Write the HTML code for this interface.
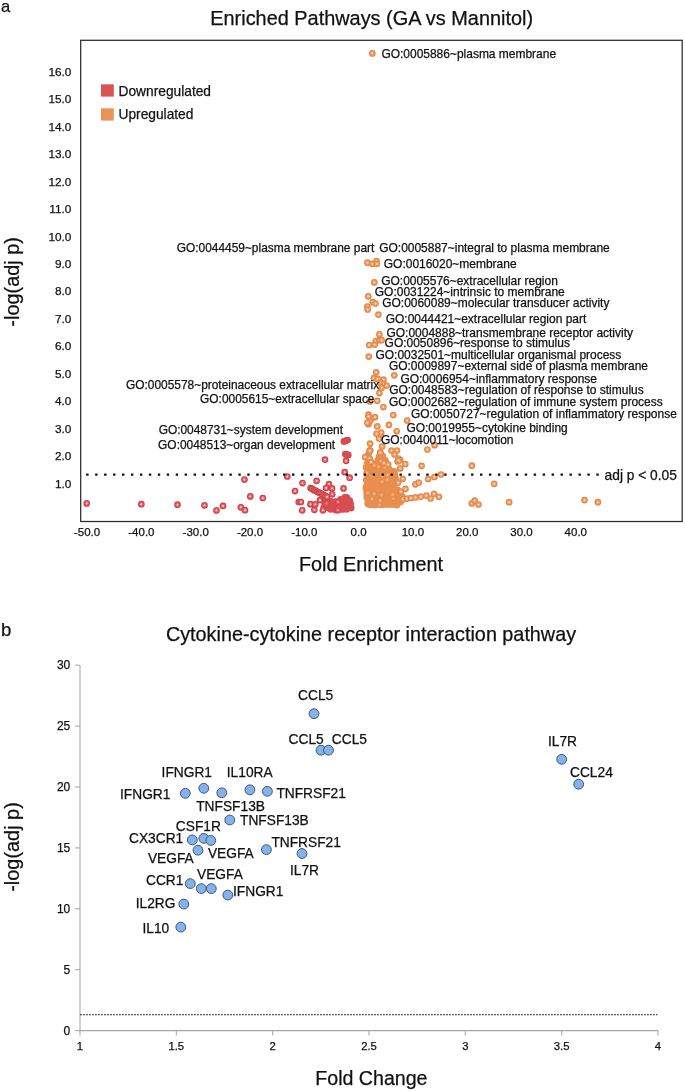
<!DOCTYPE html><html><head><meta charset="utf-8"><title>Figure</title><style>html,body{margin:0;padding:0;background:#fff}svg{display:block;will-change:transform}text{font-family:"Liberation Sans",sans-serif;fill:#111;stroke:#111;stroke-width:0.25px}</style></head><body>
<svg width="685" height="1091" viewBox="0 0 685 1091">
<rect width="685" height="1091" fill="#fff"/>
<text x="1" y="12" font-size="16.6">a</text>
<text x="371.7" y="24.7" font-size="19.9" text-anchor="middle">Enriched Pathways (GA vs Mannitol)</text>
<rect x="80.7" y="40.3" width="601.5" height="481.2" fill="none" stroke="#2b2b2b" stroke-width="1.25"/>
<g font-size="11.8" text-anchor="end">
<text x="71.4" y="487.6">1.0</text>
<text x="71.4" y="460.1">2.0</text>
<text x="71.4" y="432.6">3.0</text>
<text x="71.4" y="405.2">4.0</text>
<text x="71.4" y="377.8">5.0</text>
<text x="71.4" y="350.3">6.0</text>
<text x="71.4" y="322.8">7.0</text>
<text x="71.4" y="295.4">8.0</text>
<text x="71.4" y="267.9">9.0</text>
<text x="71.4" y="240.5">10.0</text>
<text x="71.4" y="213.1">11.0</text>
<text x="71.4" y="185.6">12.0</text>
<text x="71.4" y="158.1">13.0</text>
<text x="71.4" y="130.7">14.0</text>
<text x="71.4" y="103.2">15.0</text>
<text x="71.4" y="75.8">16.0</text>
</g>
<g font-size="11.5" text-anchor="middle">
<text x="87.1" y="535.8">-50.0</text>
<text x="141.4" y="535.8">-40.0</text>
<text x="195.7" y="535.8">-30.0</text>
<text x="250.0" y="535.8">-20.0</text>
<text x="304.3" y="535.8">-10.0</text>
<text x="358.6" y="535.8">0.0</text>
<text x="412.9" y="535.8">10.0</text>
<text x="467.2" y="535.8">20.0</text>
<text x="521.5" y="535.8">30.0</text>
<text x="575.8" y="535.8">40.0</text>
</g>
<text transform="translate(19,281.9) rotate(-90)" font-size="19.9" text-anchor="middle">-log(adj p)</text>
<text x="371" y="570.5" font-size="19.8" text-anchor="middle">Fold Enrichment</text>
<rect x="101" y="84.3" width="12.8" height="12.3" fill="#dc5356"/>
<rect x="101" y="108.3" width="12.8" height="12.3" fill="#e9935a"/>
<text x="118.5" y="95.7" font-size="13.75">Downregulated</text>
<text x="118.5" y="119.4" font-size="13.75">Upregulated</text>
<defs><radialGradient id="gr"><stop offset="0" stop-color="#f9dccf"/><stop offset="0.17" stop-color="#f9d6c8"/><stop offset="0.36" stop-color="#e9696c"/><stop offset="0.6" stop-color="#e46266"/><stop offset="0.74" stop-color="#cb444b"/><stop offset="1" stop-color="#cb444b"/></radialGradient><radialGradient id="go"><stop offset="0" stop-color="#fce6cb"/><stop offset="0.17" stop-color="#fbdcbb"/><stop offset="0.36" stop-color="#f0a670"/><stop offset="0.6" stop-color="#ec9c62"/><stop offset="0.74" stop-color="#e1884a"/><stop offset="1" stop-color="#e1884a"/></radialGradient></defs>
<g fill="#d94c50">
<circle cx="338.3" cy="508.1" r="3.3"/>
<circle cx="337.8" cy="510.2" r="3.3"/>
<circle cx="326.5" cy="503.5" r="3.3"/>
<circle cx="338.1" cy="501.8" r="3.3"/>
<circle cx="349.2" cy="504.9" r="3.3"/>
<circle cx="335.3" cy="501.6" r="3.3"/>
<circle cx="343.8" cy="498.8" r="3.3"/>
<circle cx="327.2" cy="506.1" r="3.3"/>
<circle cx="345.3" cy="507.7" r="3.3"/>
<circle cx="346.8" cy="497.3" r="3.3"/>
<circle cx="324.7" cy="502.9" r="3.3"/>
<circle cx="332.1" cy="507.6" r="3.3"/>
<circle cx="339.2" cy="505.1" r="3.3"/>
<circle cx="331.9" cy="503.2" r="3.3"/>
<circle cx="330.8" cy="501.3" r="3.3"/>
<circle cx="333.7" cy="503.3" r="3.3"/>
<circle cx="341.7" cy="505.3" r="3.3"/>
<circle cx="349.8" cy="500.9" r="3.3"/>
<circle cx="337.6" cy="504.9" r="3.3"/>
<circle cx="344.0" cy="504.9" r="3.3"/>
<circle cx="329.5" cy="503.9" r="3.3"/>
<circle cx="348.1" cy="503.3" r="3.3"/>
<circle cx="335.6" cy="507.4" r="3.3"/>
<circle cx="345.8" cy="498.6" r="3.3"/>
<circle cx="333.0" cy="505.4" r="3.3"/>
<circle cx="334.9" cy="505.0" r="3.3"/>
<circle cx="325.6" cy="505.8" r="3.3"/>
<circle cx="340.5" cy="499.2" r="3.3"/>
<circle cx="343.9" cy="509.1" r="3.3"/>
<circle cx="346.5" cy="505.0" r="3.3"/>
<circle cx="335.7" cy="510.2" r="3.3"/>
<circle cx="345.5" cy="502.8" r="3.3"/>
<circle cx="326.4" cy="507.4" r="3.3"/>
<circle cx="347.5" cy="507.7" r="3.3"/>
<circle cx="350.7" cy="504.1" r="3.3"/>
<circle cx="339.5" cy="501.2" r="3.3"/>
<circle cx="333.8" cy="507.1" r="3.3"/>
<circle cx="351.3" cy="508.1" r="3.3"/>
<circle cx="343.4" cy="503.6" r="3.3"/>
<circle cx="327.7" cy="501.9" r="3.3"/>
<circle cx="342.2" cy="509.5" r="3.3"/>
<circle cx="346.7" cy="509.4" r="3.3"/>
<circle cx="328.5" cy="508.1" r="3.3"/>
<circle cx="344.0" cy="507.7" r="3.3"/>
<circle cx="344.7" cy="497.4" r="3.3"/>
<circle cx="340.5" cy="507.0" r="3.3"/>
<circle cx="323.7" cy="507.3" r="3.3"/>
<circle cx="330.6" cy="509.5" r="3.3"/>
<circle cx="344.5" cy="500.9" r="3.3"/>
<circle cx="336.7" cy="504.1" r="3.3"/>
<circle cx="342.4" cy="500.7" r="3.3"/>
<circle cx="330.6" cy="506.1" r="3.3"/>
<circle cx="340.1" cy="509.3" r="3.3"/>
<circle cx="325.5" cy="501.5" r="3.3"/>
<circle cx="346.5" cy="500.8" r="3.3"/>
<circle cx="348.4" cy="499.7" r="3.3"/>
<circle cx="340.6" cy="503.1" r="3.3"/>
<circle cx="338.1" cy="503.0" r="3.3"/>
</g>
<g fill="url(#gr)" opacity="0.55">
<circle cx="338.3" cy="508.1" r="3.3"/>
<circle cx="337.8" cy="510.2" r="3.3"/>
<circle cx="326.5" cy="503.5" r="3.3"/>
<circle cx="338.1" cy="501.8" r="3.3"/>
</g>
<g fill="url(#gr)">
<circle cx="86.7" cy="503.4" r="3.35"/>
<circle cx="141.3" cy="504.2" r="3.35"/>
<circle cx="177.5" cy="504.7" r="3.35"/>
<circle cx="204.5" cy="505.3" r="3.35"/>
<circle cx="216.5" cy="510.4" r="3.35"/>
<circle cx="223.0" cy="505.9" r="3.35"/>
<circle cx="240.8" cy="507.3" r="3.35"/>
<circle cx="245.0" cy="510.2" r="3.35"/>
<circle cx="244.4" cy="479.6" r="3.35"/>
<circle cx="250.3" cy="496.4" r="3.35"/>
<circle cx="262.8" cy="498.0" r="3.35"/>
<circle cx="287.3" cy="476.5" r="3.35"/>
<circle cx="302.5" cy="483.1" r="3.35"/>
<circle cx="295.0" cy="491.1" r="3.35"/>
<circle cx="316.6" cy="480.8" r="3.35"/>
<circle cx="325.0" cy="459.6" r="3.35"/>
<circle cx="298.7" cy="502.0" r="3.35"/>
<circle cx="300.9" cy="502.0" r="3.35"/>
<circle cx="302.2" cy="510.3" r="3.35"/>
<circle cx="310.5" cy="504.2" r="3.35"/>
<circle cx="315.3" cy="504.4" r="3.35"/>
<circle cx="314.4" cy="509.8" r="3.35"/>
<circle cx="322.9" cy="510.3" r="3.35"/>
<circle cx="320.0" cy="500.2" r="3.35"/>
<circle cx="328.9" cy="484.0" r="3.35"/>
<circle cx="326.1" cy="488.0" r="3.35"/>
<circle cx="332.0" cy="488.4" r="3.35"/>
<circle cx="343.5" cy="488.4" r="3.35"/>
<circle cx="332.2" cy="494.3" r="3.35"/>
<circle cx="344.7" cy="472.2" r="3.35"/>
<circle cx="349.6" cy="477.7" r="3.35"/>
<circle cx="346.1" cy="460.8" r="3.35"/>
<circle cx="345.4" cy="454.2" r="3.35"/>
<circle cx="348.3" cy="455.0" r="3.35"/>
<circle cx="346.8" cy="454.5" r="3.35"/>
<circle cx="343.9" cy="441.4" r="3.35"/>
<circle cx="347.6" cy="440.0" r="3.35"/>
<circle cx="345.7" cy="440.8" r="3.35"/>
<circle cx="310.6" cy="488.0" r="3.35"/>
<circle cx="312.2" cy="488.8" r="3.35"/>
<circle cx="313.9" cy="490.2" r="3.35"/>
<circle cx="315.6" cy="490.5" r="3.35"/>
<circle cx="317.2" cy="491.8" r="3.35"/>
<circle cx="318.9" cy="492.6" r="3.35"/>
<circle cx="320.5" cy="493.2" r="3.35"/>
<circle cx="322.2" cy="494.5" r="3.35"/>
<circle cx="323.8" cy="494.9" r="3.35"/>
<circle cx="325.5" cy="496.2" r="3.35"/>
<circle cx="327.1" cy="496.8" r="3.35"/>
</g>
<g fill="#d94c50"><circle cx="345.7" cy="440.8" r="3.2"/><circle cx="346.8" cy="454.6" r="3.2"/><circle cx="344.5" cy="441.2" r="3.2"/><circle cx="347" cy="440.3" r="3.2"/><circle cx="345.8" cy="454.3" r="3.2"/><circle cx="347.8" cy="454.9" r="3.2"/></g>
<g fill="#e88f50"><circle cx="369.8" cy="450.8" r="3.3"/><circle cx="368.5" cy="454" r="3.3"/><circle cx="366.3" cy="457" r="3.3"/><circle cx="369.5" cy="458.5" r="3.3"/><circle cx="368.9" cy="461.5" r="3.3"/><circle cx="367" cy="463.5" r="3.3"/><circle cx="371" cy="462" r="3.3"/><circle cx="370.1" cy="450.5" r="3.3"/><circle cx="365.3" cy="457.1" r="3.3"/><circle cx="380.3" cy="452.6" r="3.3"/><circle cx="382.9" cy="456.1" r="3.3"/><circle cx="385.5" cy="460.4" r="3.3"/><circle cx="381.2" cy="461.3" r="3.3"/><circle cx="377.7" cy="460.4" r="3.3"/><circle cx="379" cy="456.5" r="3.3"/><circle cx="384" cy="463" r="3.3"/><circle cx="376.5" cy="463.5" r="3.3"/><circle cx="374" cy="465" r="3.3"/><circle cx="388" cy="464.5" r="3.3"/></g>
<g fill="#e88f50">
<circle cx="374.1" cy="493.9" r="3.3"/>
<circle cx="366.8" cy="472.8" r="3.3"/>
<circle cx="372.0" cy="499.1" r="3.3"/>
<circle cx="378.3" cy="466.7" r="3.3"/>
<circle cx="393.2" cy="498.2" r="3.3"/>
<circle cx="372.6" cy="475.6" r="3.3"/>
<circle cx="384.7" cy="467.5" r="3.3"/>
<circle cx="382.0" cy="481.8" r="3.3"/>
<circle cx="367.8" cy="492.9" r="3.3"/>
<circle cx="392.7" cy="494.6" r="3.3"/>
<circle cx="382.4" cy="476.2" r="3.3"/>
<circle cx="379.6" cy="504.6" r="3.3"/>
<circle cx="374.1" cy="465.2" r="3.3"/>
<circle cx="381.3" cy="494.9" r="3.3"/>
<circle cx="387.6" cy="474.9" r="3.3"/>
<circle cx="380.1" cy="500.8" r="3.3"/>
<circle cx="387.4" cy="479.7" r="3.3"/>
<circle cx="402.1" cy="496.2" r="3.3"/>
<circle cx="377.9" cy="504.1" r="3.3"/>
<circle cx="373.7" cy="472.9" r="3.3"/>
<circle cx="393.1" cy="477.0" r="3.3"/>
<circle cx="366.1" cy="467.4" r="3.3"/>
<circle cx="392.8" cy="504.5" r="3.3"/>
<circle cx="386.9" cy="494.9" r="3.3"/>
<circle cx="367.7" cy="502.7" r="3.3"/>
<circle cx="379.2" cy="477.8" r="3.3"/>
<circle cx="384.4" cy="486.0" r="3.3"/>
<circle cx="399.9" cy="500.7" r="3.3"/>
<circle cx="386.5" cy="477.6" r="3.3"/>
<circle cx="379.6" cy="502.0" r="3.3"/>
<circle cx="383.1" cy="478.0" r="3.3"/>
<circle cx="372.4" cy="469.7" r="3.3"/>
<circle cx="380.0" cy="497.0" r="3.3"/>
<circle cx="368.9" cy="501.1" r="3.3"/>
<circle cx="389.3" cy="480.3" r="3.3"/>
<circle cx="389.5" cy="504.5" r="3.3"/>
<circle cx="388.9" cy="498.9" r="3.3"/>
<circle cx="372.7" cy="480.0" r="3.3"/>
<circle cx="398.0" cy="493.9" r="3.3"/>
<circle cx="395.4" cy="490.3" r="3.3"/>
<circle cx="374.0" cy="477.1" r="3.3"/>
<circle cx="399.8" cy="491.9" r="3.3"/>
<circle cx="378.4" cy="493.7" r="3.3"/>
<circle cx="382.8" cy="500.9" r="3.3"/>
<circle cx="377.1" cy="477.7" r="3.3"/>
<circle cx="389.2" cy="497.0" r="3.3"/>
<circle cx="396.9" cy="505.3" r="3.3"/>
<circle cx="369.0" cy="503.1" r="3.3"/>
<circle cx="377.1" cy="479.1" r="3.3"/>
<circle cx="390.4" cy="477.9" r="3.3"/>
<circle cx="387.7" cy="504.6" r="3.3"/>
<circle cx="385.0" cy="472.0" r="3.3"/>
<circle cx="383.4" cy="503.3" r="3.3"/>
<circle cx="391.9" cy="496.8" r="3.3"/>
<circle cx="379.6" cy="498.3" r="3.3"/>
<circle cx="392.0" cy="500.9" r="3.3"/>
<circle cx="376.7" cy="489.5" r="3.3"/>
<circle cx="381.7" cy="477.6" r="3.3"/>
<circle cx="368.0" cy="487.4" r="3.3"/>
<circle cx="375.4" cy="496.2" r="3.3"/>
<circle cx="386.9" cy="501.1" r="3.3"/>
<circle cx="375.4" cy="475.9" r="3.3"/>
<circle cx="366.1" cy="480.1" r="3.3"/>
<circle cx="370.4" cy="505.0" r="3.3"/>
<circle cx="378.4" cy="483.5" r="3.3"/>
<circle cx="383.8" cy="499.1" r="3.3"/>
<circle cx="385.8" cy="498.9" r="3.3"/>
<circle cx="372.1" cy="486.6" r="3.3"/>
<circle cx="369.5" cy="481.3" r="3.3"/>
<circle cx="379.9" cy="483.9" r="3.3"/>
<circle cx="393.9" cy="487.9" r="3.3"/>
<circle cx="368.1" cy="474.9" r="3.3"/>
<circle cx="386.7" cy="487.4" r="3.3"/>
<circle cx="386.8" cy="469.5" r="3.3"/>
<circle cx="381.4" cy="465.1" r="3.3"/>
<circle cx="386.1" cy="473.1" r="3.3"/>
<circle cx="392.8" cy="485.7" r="3.3"/>
<circle cx="372.4" cy="493.8" r="3.3"/>
<circle cx="384.7" cy="479.7" r="3.3"/>
<circle cx="389.5" cy="500.7" r="3.3"/>
<circle cx="366.6" cy="493.9" r="3.3"/>
<circle cx="395.5" cy="477.9" r="3.3"/>
<circle cx="389.0" cy="468.7" r="3.3"/>
<circle cx="392.4" cy="475.9" r="3.3"/>
<circle cx="378.4" cy="496.0" r="3.3"/>
<circle cx="386.2" cy="481.7" r="3.3"/>
<circle cx="368.9" cy="469.2" r="3.3"/>
<circle cx="384.5" cy="475.8" r="3.3"/>
<circle cx="386.8" cy="471.8" r="3.3"/>
<circle cx="390.1" cy="492.2" r="3.3"/>
<circle cx="399.6" cy="496.1" r="3.3"/>
<circle cx="373.9" cy="468.8" r="3.3"/>
<circle cx="366.5" cy="490.2" r="3.3"/>
<circle cx="386.8" cy="495.8" r="3.3"/>
<circle cx="379.2" cy="473.1" r="3.3"/>
<circle cx="392.2" cy="488.2" r="3.3"/>
<circle cx="370.3" cy="471.7" r="3.3"/>
<circle cx="389.3" cy="485.9" r="3.3"/>
<circle cx="391.8" cy="480.4" r="3.3"/>
<circle cx="370.3" cy="488.7" r="3.3"/>
<circle cx="381.1" cy="502.1" r="3.3"/>
<circle cx="395.0" cy="475.0" r="3.3"/>
<circle cx="386.7" cy="467.3" r="3.3"/>
<circle cx="383.7" cy="468.7" r="3.3"/>
<circle cx="382.4" cy="466.8" r="3.3"/>
<circle cx="375.9" cy="483.6" r="3.3"/>
<circle cx="395.2" cy="479.0" r="3.3"/>
<circle cx="390.4" cy="490.2" r="3.3"/>
<circle cx="396.7" cy="497.0" r="3.3"/>
<circle cx="367.7" cy="467.7" r="3.3"/>
<circle cx="387.8" cy="484.1" r="3.3"/>
<circle cx="388.4" cy="503.2" r="3.3"/>
<circle cx="369.7" cy="490.8" r="3.3"/>
<circle cx="393.9" cy="481.1" r="3.3"/>
<circle cx="382.9" cy="479.9" r="3.3"/>
<circle cx="389.2" cy="474.1" r="3.3"/>
<circle cx="383.5" cy="489.6" r="3.3"/>
<circle cx="369.7" cy="477.2" r="3.3"/>
<circle cx="383.1" cy="481.1" r="3.3"/>
<circle cx="386.7" cy="465.7" r="3.3"/>
<circle cx="367.8" cy="496.2" r="3.3"/>
<circle cx="371.1" cy="477.1" r="3.3"/>
<circle cx="373.7" cy="482.2" r="3.3"/>
<circle cx="377.5" cy="492.5" r="3.3"/>
<circle cx="399.9" cy="494.0" r="3.3"/>
<circle cx="390.1" cy="488.6" r="3.3"/>
<circle cx="378.9" cy="485.5" r="3.3"/>
<circle cx="377.2" cy="469.4" r="3.3"/>
<circle cx="390.9" cy="502.3" r="3.3"/>
<circle cx="379.8" cy="487.9" r="3.3"/>
<circle cx="384.3" cy="494.6" r="3.3"/>
<circle cx="377.4" cy="487.7" r="3.3"/>
<circle cx="396.6" cy="500.1" r="3.3"/>
<circle cx="366.5" cy="485.9" r="3.3"/>
<circle cx="375.0" cy="505.2" r="3.3"/>
<circle cx="394.7" cy="504.6" r="3.3"/>
<circle cx="390.4" cy="484.5" r="3.3"/>
<circle cx="395.6" cy="494.1" r="3.3"/>
<circle cx="397.6" cy="498.1" r="3.3"/>
<circle cx="377.7" cy="500.2" r="3.3"/>
<circle cx="375.4" cy="500.9" r="3.3"/>
<circle cx="395.2" cy="502.8" r="3.3"/>
<circle cx="381.9" cy="496.3" r="3.3"/>
<circle cx="397.5" cy="489.9" r="3.3"/>
<circle cx="398.4" cy="502.3" r="3.3"/>
<circle cx="372.3" cy="492.2" r="3.3"/>
<circle cx="390.3" cy="476.1" r="3.3"/>
<circle cx="380.9" cy="485.6" r="3.3"/>
<circle cx="371.3" cy="500.3" r="3.3"/>
<circle cx="369.4" cy="465.2" r="3.3"/>
<circle cx="384.4" cy="465.4" r="3.3"/>
<circle cx="381.0" cy="473.2" r="3.3"/>
<circle cx="394.0" cy="484.2" r="3.3"/>
<circle cx="372.5" cy="488.1" r="3.3"/>
<circle cx="369.2" cy="485.7" r="3.3"/>
<circle cx="367.8" cy="504.1" r="3.3"/>
<circle cx="369.3" cy="494.6" r="3.3"/>
<circle cx="382.7" cy="505.0" r="3.3"/>
<circle cx="388.4" cy="493.9" r="3.3"/>
<circle cx="393.5" cy="490.0" r="3.3"/>
<circle cx="376.6" cy="499.1" r="3.3"/>
<circle cx="382.2" cy="483.7" r="3.3"/>
<circle cx="370.0" cy="479.2" r="3.3"/>
<circle cx="387.0" cy="492.6" r="3.3"/>
<circle cx="372.1" cy="490.4" r="3.3"/>
<circle cx="373.9" cy="486.2" r="3.3"/>
<circle cx="370.9" cy="492.0" r="3.3"/>
<circle cx="373.5" cy="498.1" r="3.3"/>
<circle cx="374.9" cy="471.1" r="3.3"/>
<circle cx="379.9" cy="479.9" r="3.3"/>
<circle cx="377.3" cy="493.8" r="3.3"/>
<circle cx="371.3" cy="466.8" r="3.3"/>
<circle cx="379.4" cy="489.8" r="3.3"/>
<circle cx="372.9" cy="495.8" r="3.3"/>
<circle cx="391.1" cy="473.1" r="3.3"/>
<circle cx="367.5" cy="477.9" r="3.3"/>
<circle cx="394.6" cy="471.6" r="3.3"/>
<circle cx="377.1" cy="471.0" r="3.3"/>
<circle cx="371.8" cy="482.4" r="3.3"/>
<circle cx="372.4" cy="500.0" r="3.3"/>
<circle cx="384.4" cy="504.3" r="3.3"/>
<circle cx="382.5" cy="488.7" r="3.3"/>
<circle cx="370.5" cy="483.6" r="3.3"/>
<circle cx="373.6" cy="467.0" r="3.3"/>
<circle cx="378.0" cy="475.8" r="3.3"/>
<circle cx="382.0" cy="490.3" r="3.3"/>
<circle cx="383.7" cy="473.0" r="3.3"/>
<circle cx="385.8" cy="486.5" r="3.3"/>
<circle cx="395.6" cy="498.9" r="3.3"/>
<circle cx="380.8" cy="491.8" r="3.3"/>
<circle cx="372.6" cy="504.5" r="3.3"/>
<circle cx="366.7" cy="497.8" r="3.3"/>
<circle cx="380.7" cy="475.4" r="3.3"/>
<circle cx="394.3" cy="492.7" r="3.3"/>
<circle cx="385.5" cy="500.8" r="3.3"/>
<circle cx="391.6" cy="494.7" r="3.3"/>
<circle cx="381.9" cy="492.0" r="3.3"/>
<circle cx="371.1" cy="496.9" r="3.3"/>
<circle cx="372.0" cy="503.4" r="3.3"/>
<circle cx="390.8" cy="481.5" r="3.3"/>
<circle cx="391.8" cy="492.9" r="3.3"/>
<circle cx="375.6" cy="492.1" r="3.3"/>
<circle cx="386.3" cy="503.3" r="3.3"/>
<circle cx="375.1" cy="479.8" r="3.3"/>
<circle cx="390.5" cy="485.5" r="3.3"/>
<circle cx="375.4" cy="467.9" r="3.3"/>
<circle cx="379.5" cy="471.7" r="3.3"/>
<circle cx="368.4" cy="479.9" r="3.3"/>
<circle cx="394.1" cy="473.2" r="3.3"/>
<circle cx="402.4" cy="497.8" r="3.3"/>
<circle cx="381.1" cy="498.4" r="3.3"/>
<circle cx="377.0" cy="503.1" r="3.3"/>
<circle cx="395.2" cy="496.2" r="3.3"/>
<circle cx="365.8" cy="487.9" r="3.3"/>
<circle cx="388.3" cy="481.3" r="3.3"/>
<circle cx="367.8" cy="471.1" r="3.3"/>
<circle cx="367.4" cy="468.9" r="3.3"/>
<circle cx="394.2" cy="500.2" r="3.3"/>
<circle cx="385.5" cy="488.6" r="3.3"/>
<circle cx="393.8" cy="503.3" r="3.3"/>
<circle cx="388.6" cy="477.8" r="3.3"/>
<circle cx="367.6" cy="481.4" r="3.3"/>
<circle cx="392.7" cy="471.2" r="3.3"/>
<circle cx="377.1" cy="474.0" r="3.3"/>
<circle cx="375.6" cy="488.6" r="3.3"/>
<circle cx="385.4" cy="496.8" r="3.3"/>
<circle cx="379.3" cy="481.4" r="3.3"/>
<circle cx="384.9" cy="492.5" r="3.3"/>
<circle cx="385.9" cy="490.3" r="3.3"/>
<circle cx="379.3" cy="468.7" r="3.3"/>
<circle cx="368.3" cy="483.7" r="3.3"/>
<circle cx="391.4" cy="498.6" r="3.3"/>
<circle cx="396.6" cy="491.8" r="3.3"/>
<circle cx="389.7" cy="471.3" r="3.3"/>
<circle cx="374.6" cy="490.1" r="3.3"/>
<circle cx="380.1" cy="467.2" r="3.3"/>
<circle cx="379.3" cy="465.0" r="3.3"/>
<circle cx="382.7" cy="470.9" r="3.3"/>
<circle cx="372.1" cy="473.1" r="3.3"/>
<circle cx="369.8" cy="499.1" r="3.3"/>
<circle cx="376.3" cy="486.0" r="3.3"/>
<circle cx="376.6" cy="482.3" r="3.3"/>
<circle cx="401.6" cy="500.4" r="3.3"/>
<circle cx="388.9" cy="489.6" r="3.3"/>
<circle cx="372.4" cy="483.3" r="3.3"/>
<circle cx="380.8" cy="469.5" r="3.3"/>
<circle cx="401.0" cy="498.1" r="3.3"/>
<circle cx="372.7" cy="471.4" r="3.3"/>
<circle cx="385.6" cy="484.4" r="3.3"/>
<circle cx="368.9" cy="472.8" r="3.3"/>
<circle cx="373.6" cy="502.6" r="3.3"/>
<circle cx="392.3" cy="484.2" r="3.3"/>
<circle cx="372.2" cy="465.7" r="3.3"/>
<circle cx="400.4" cy="502.2" r="3.3"/>
<circle cx="369.9" cy="475.3" r="3.3"/>
</g>
<g fill="url(#go)" opacity="0.55">
<circle cx="374.1" cy="493.9" r="3.3"/>
<circle cx="366.8" cy="472.8" r="3.3"/>
<circle cx="372.0" cy="499.1" r="3.3"/>
<circle cx="378.3" cy="466.7" r="3.3"/>
<circle cx="393.2" cy="498.2" r="3.3"/>
<circle cx="372.6" cy="475.6" r="3.3"/>
<circle cx="384.7" cy="467.5" r="3.3"/>
<circle cx="382.0" cy="481.8" r="3.3"/>
<circle cx="367.8" cy="492.9" r="3.3"/>
<circle cx="392.7" cy="494.6" r="3.3"/>
<circle cx="382.4" cy="476.2" r="3.3"/>
<circle cx="379.6" cy="504.6" r="3.3"/>
<circle cx="374.1" cy="465.2" r="3.3"/>
<circle cx="381.3" cy="494.9" r="3.3"/>
<circle cx="387.6" cy="474.9" r="3.3"/>
<circle cx="380.1" cy="500.8" r="3.3"/>
<circle cx="387.4" cy="479.7" r="3.3"/>
</g>
<g fill="url(#go)">
<circle cx="372.3" cy="53.4" r="3.35"/>
<circle cx="367.4" cy="262.7" r="3.35"/>
<circle cx="372.4" cy="263.9" r="3.35"/>
<circle cx="376.5" cy="261.0" r="3.35"/>
<circle cx="376.8" cy="263.8" r="3.35"/>
<circle cx="374.3" cy="282.4" r="3.35"/>
<circle cx="368.2" cy="296.3" r="3.35"/>
<circle cx="372.8" cy="302.2" r="3.35"/>
<circle cx="375.5" cy="303.6" r="3.35"/>
<circle cx="367.4" cy="306.5" r="3.35"/>
<circle cx="367.7" cy="309.5" r="3.35"/>
<circle cx="378.4" cy="314.6" r="3.35"/>
<circle cx="379.4" cy="334.4" r="3.35"/>
<circle cx="375.8" cy="341.0" r="3.35"/>
<circle cx="379.4" cy="340.2" r="3.35"/>
<circle cx="381.6" cy="340.2" r="3.35"/>
<circle cx="369.2" cy="345.0" r="3.35"/>
<circle cx="374.6" cy="344.6" r="3.35"/>
<circle cx="368.8" cy="356.6" r="3.35"/>
<circle cx="376.2" cy="372.3" r="3.35"/>
<circle cx="394.3" cy="375.3" r="3.35"/>
<circle cx="373.9" cy="378.2" r="3.35"/>
<circle cx="377.7" cy="378.9" r="3.35"/>
<circle cx="383.4" cy="379.6" r="3.35"/>
<circle cx="380.9" cy="383.3" r="3.35"/>
<circle cx="383.8" cy="384.0" r="3.35"/>
<circle cx="386.7" cy="385.5" r="3.35"/>
<circle cx="381.6" cy="387.7" r="3.35"/>
<circle cx="379.4" cy="393.1" r="3.35"/>
<circle cx="369.9" cy="401.5" r="3.35"/>
<circle cx="377.2" cy="400.8" r="3.35"/>
<circle cx="383.4" cy="407.1" r="3.35"/>
<circle cx="368.5" cy="414.7" r="3.35"/>
<circle cx="375.0" cy="417.2" r="3.35"/>
<circle cx="370.7" cy="419.8" r="3.35"/>
<circle cx="393.3" cy="415.1" r="3.35"/>
<circle cx="407.2" cy="420.5" r="3.35"/>
<circle cx="368.5" cy="424.2" r="3.35"/>
<circle cx="377.2" cy="426.4" r="3.35"/>
<circle cx="388.9" cy="424.9" r="3.35"/>
<circle cx="396.7" cy="431.3" r="3.35"/>
<circle cx="381.2" cy="432.5" r="3.35"/>
<circle cx="376.5" cy="433.8" r="3.35"/>
<circle cx="370.1" cy="443.7" r="3.35"/>
<circle cx="382.2" cy="446.5" r="3.35"/>
<circle cx="370.1" cy="450.5" r="3.35"/>
<circle cx="365.3" cy="457.1" r="3.35"/>
<circle cx="391.5" cy="450.6" r="3.35"/>
<circle cx="397.0" cy="450.5" r="3.35"/>
<circle cx="394.5" cy="454.4" r="3.35"/>
<circle cx="398.5" cy="458.5" r="3.35"/>
<circle cx="400.3" cy="460.0" r="3.35"/>
<circle cx="397.6" cy="461.5" r="3.35"/>
<circle cx="405.3" cy="464.0" r="3.35"/>
<circle cx="400.2" cy="468.4" r="3.35"/>
<circle cx="421.6" cy="465.8" r="3.35"/>
<circle cx="427.4" cy="449.5" r="3.35"/>
<circle cx="434.6" cy="445.2" r="3.35"/>
<circle cx="441.0" cy="474.5" r="3.35"/>
<circle cx="434.4" cy="477.0" r="3.35"/>
<circle cx="428.1" cy="479.0" r="3.35"/>
<circle cx="415.4" cy="484.3" r="3.35"/>
<circle cx="418.7" cy="482.6" r="3.35"/>
<circle cx="398.2" cy="482.6" r="3.35"/>
<circle cx="402.7" cy="478.8" r="3.35"/>
<circle cx="401.0" cy="491.6" r="3.35"/>
<circle cx="405.5" cy="488.8" r="3.35"/>
<circle cx="403.0" cy="499.3" r="3.35"/>
<circle cx="407.0" cy="498.6" r="3.35"/>
<circle cx="411.0" cy="498.0" r="3.35"/>
<circle cx="415.5" cy="497.4" r="3.35"/>
<circle cx="420.8" cy="496.6" r="3.35"/>
<circle cx="426.4" cy="495.6" r="3.35"/>
<circle cx="430.6" cy="498.5" r="3.35"/>
<circle cx="434.0" cy="493.8" r="3.35"/>
<circle cx="438.9" cy="496.8" r="3.35"/>
<circle cx="368.5" cy="416.5" r="3.35"/>
<circle cx="369.5" cy="421.5" r="3.35"/>
<circle cx="367.3" cy="422.8" r="3.35"/>
<circle cx="379.1" cy="438.6" r="3.35"/>
<circle cx="398.6" cy="460.6" r="3.35"/>
<circle cx="471.8" cy="465.7" r="3.35"/>
<circle cx="494.2" cy="483.8" r="3.35"/>
<circle cx="471.8" cy="503.4" r="3.35"/>
<circle cx="474.7" cy="500.7" r="3.35"/>
<circle cx="478.5" cy="504.5" r="3.35"/>
<circle cx="509.1" cy="502.2" r="3.35"/>
<circle cx="584.5" cy="500.1" r="3.35"/>
<circle cx="597.9" cy="502.2" r="3.35"/>
<circle cx="369.8" cy="450.8" r="3.35"/>
<circle cx="369.5" cy="458.5" r="3.35"/>
<circle cx="371.0" cy="462.0" r="3.35"/>
<circle cx="380.3" cy="452.6" r="3.35"/>
<circle cx="381.2" cy="461.3" r="3.35"/>
<circle cx="384.0" cy="463.0" r="3.35"/>
<circle cx="388.0" cy="464.5" r="3.35"/>
</g>
<line x1="86.2" y1="474.6" x2="599.5" y2="474.6" stroke="#111" stroke-width="2.4" stroke-dasharray="2.4 6.55"/>
<text x="604.6" y="479.7" font-size="13.75">adj p &lt; 0.05</text>
<g font-size="11.92">
<text x="381.4" y="58.4" font-size="11.97">GO:0005886~plasma membrane</text>
<text x="379.2" y="251.9" font-size="11.97">GO:0005887~integral to plasma membrane</text>
<text x="383.8" y="267.7" font-size="11.97">GO:0016020~membrane</text>
<text x="381.2" y="284.8" font-size="11.97">GO:0005576~extracellular region</text>
<text x="374.8" y="296.2" font-size="11.97">GO:0031224~intrinsic to membrane</text>
<text x="382.2" y="307.4" font-size="11.97">GO:0060089~molecular transducer activity</text>
<text x="385.7" y="322.8" font-size="11.97">GO:0044421~extracellular region part</text>
<text x="386.5" y="336.8" font-size="11.97">GO:0004888~transmembrane receptor activity</text>
<text x="384.6" y="346.7" font-size="11.97">GO:0050896~response to stimulus</text>
<text x="375.5" y="358.5" font-size="11.97">GO:0032501~multicellular organismal process</text>
<text x="388.9" y="370.1" font-size="11.97">GO:0009897~external side of plasma membrane</text>
<text x="400.4" y="382.6" font-size="11.97">GO:0006954~inflammatory response</text>
<text x="389.2" y="393.7" font-size="11.97">GO:0048583~regulation of response to stimulus</text>
<text x="388.9" y="405.9" font-size="11.97">GO:0002682~regulation of immune system process</text>
<text x="411" y="418.3" font-size="11.97">GO:0050727~regulation of inflammatory response</text>
<text x="406.4" y="431.6" font-size="11.97">GO:0019955~cytokine binding</text>
<text x="381" y="443.7" font-size="11.97">GO:0040011~locomotion</text>
<text x="374.3" y="251.9" text-anchor="end">GO:0044459~plasma membrane part</text>
<text x="379.2" y="388.8" text-anchor="end">GO:0005578~proteinaceous extracellular matrix</text>
<text x="374.5" y="402.7" text-anchor="end">GO:0005615~extracellular space</text>
<text x="343" y="433.8" text-anchor="end">GO:0048731~system development</text>
<text x="335.2" y="448.7" text-anchor="end">GO:0048513~organ development</text>
</g>
<text x="1" y="636" font-size="18.6">b</text>
<text x="371" y="640.5" font-size="19.8" text-anchor="middle">Cytokine-cytokine receptor interaction pathway</text>
<g stroke="#a6a6a6" stroke-width="1.05" fill="none">
<path d="M80 665.2V1030.6H658"/>
<path d="M75 1030.6H80"/>
<path d="M75 969.7H80"/>
<path d="M75 908.8H80"/>
<path d="M75 847.9H80"/>
<path d="M75 787.0H80"/>
<path d="M75 726.1H80"/>
<path d="M75 665.2H80"/>
<path d="M80.0 1030.6V1035.5"/>
<path d="M176.3 1030.6V1035.5"/>
<path d="M272.7 1030.6V1035.5"/>
<path d="M369.0 1030.6V1035.5"/>
<path d="M465.3 1030.6V1035.5"/>
<path d="M561.7 1030.6V1035.5"/>
<path d="M658.0 1030.6V1035.5"/>
</g>
<g font-size="12" text-anchor="end">
<text x="70.3" y="1034.8">0</text>
<text x="70.3" y="973.9">5</text>
<text x="70.3" y="913.0">10</text>
<text x="70.3" y="852.1">15</text>
<text x="70.3" y="791.2">20</text>
<text x="70.3" y="730.3">25</text>
<text x="70.3" y="669.4">30</text>
</g>
<g font-size="11.3" text-anchor="middle">
<text x="80.0" y="1050.2">1</text>
<text x="176.3" y="1050.2">1.5</text>
<text x="272.7" y="1050.2">2</text>
<text x="369.0" y="1050.2">2.5</text>
<text x="465.3" y="1050.2">3</text>
<text x="561.7" y="1050.2">3.5</text>
<text x="658.0" y="1050.2">4</text>
</g>
<text transform="translate(19,847) rotate(-90)" font-size="19.9" text-anchor="middle">-log(adj p)</text>
<text x="371.4" y="1085" font-size="19.6" text-anchor="middle">Fold Change</text>
<line x1="80" y1="1014.8" x2="657.5" y2="1014.8" stroke="#2a2a2a" stroke-width="1.1" stroke-dasharray="1.9 1.1"/>
<g fill="#84b3ec" stroke="#3d5573" stroke-width="1">
<circle cx="314" cy="713.7" r="4.9"/>
<circle cx="321" cy="750.2" r="4.9"/>
<circle cx="328.5" cy="750.2" r="4.9"/>
<circle cx="185.3" cy="793.3" r="4.9"/>
<circle cx="203.8" cy="788.3" r="4.9"/>
<circle cx="221.8" cy="792.8" r="4.9"/>
<circle cx="249.9" cy="789.8" r="4.9"/>
<circle cx="267.4" cy="791.3" r="4.9"/>
<circle cx="229.8" cy="820" r="4.9"/>
<circle cx="192.3" cy="839.9" r="4.9"/>
<circle cx="203.8" cy="838.4" r="4.9"/>
<circle cx="210.8" cy="840.4" r="4.9"/>
<circle cx="198" cy="850.2" r="4.9"/>
<circle cx="266.4" cy="849.6" r="4.9"/>
<circle cx="302" cy="853.5" r="4.9"/>
<circle cx="190.3" cy="883.6" r="4.9"/>
<circle cx="201.3" cy="888.6" r="4.9"/>
<circle cx="211.3" cy="888.6" r="4.9"/>
<circle cx="227.8" cy="895.1" r="4.9"/>
<circle cx="183.8" cy="904.1" r="4.9"/>
<circle cx="180.8" cy="927.1" r="4.9"/>
<circle cx="561.7" cy="759.3" r="4.9"/>
<circle cx="578.7" cy="784.2" r="4.9"/>
</g>
<g font-size="13.75">
<text x="298.1" y="700.3">CCL5</text>
<text x="288.6" y="744">CCL5</text>
<text x="331.8" y="744">CCL5</text>
<text x="161.6" y="777">IFNGR1</text>
<text x="226.8" y="777">IL10RA</text>
<text x="120" y="798.7">IFNGR1</text>
<text x="276.4" y="798">TNFRSF21</text>
<text x="196.2" y="811">TNFSF13B</text>
<text x="240" y="825">TNFSF13B</text>
<text x="175.8" y="831">CSF1R</text>
<text x="129" y="843">CX3CR1</text>
<text x="271.4" y="847">TNFRSF21</text>
<text x="147.9" y="863.1">VEGFA</text>
<text x="207.9" y="858.3">VEGFA</text>
<text x="290" y="875">IL7R</text>
<text x="197" y="879">VEGFA</text>
<text x="146" y="885">CCR1</text>
<text x="233" y="896.3">IFNGR1</text>
<text x="135.7" y="908">IL2RG</text>
<text x="142.5" y="933.3">IL10</text>
<text x="548" y="746">IL7R</text>
<text x="570" y="776.7">CCL24</text>
</g>
</svg></body></html>
